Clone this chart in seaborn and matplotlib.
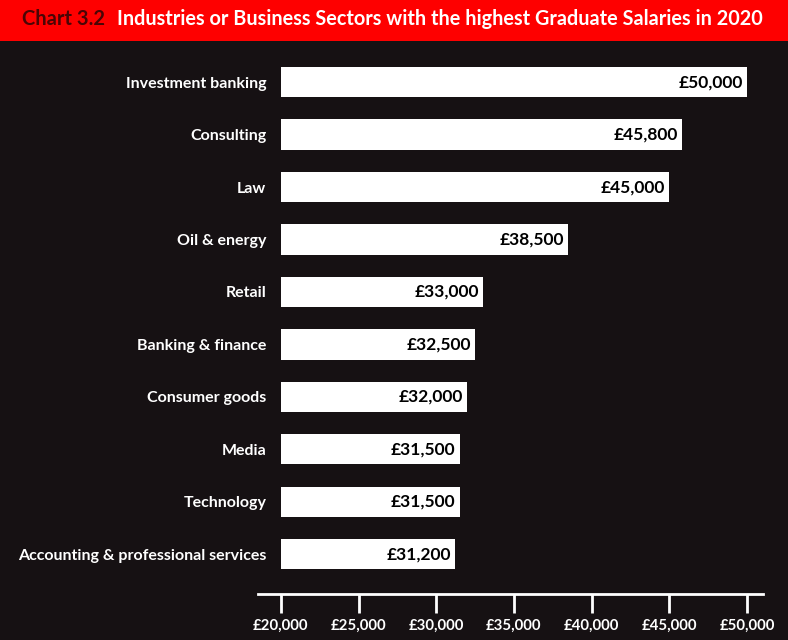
import matplotlib
matplotlib.use("Agg")
import matplotlib.pyplot as plt
import seaborn as sns
import pandas as pd
from matplotlib.patches import Rectangle
from matplotlib.ticker import FuncFormatter

categories = ["Investment banking", "Consulting", "Law", "Oil & energy", "Retail",
              "Banking & finance", "Consumer goods", "Media", "Technology",
              "Accounting & professional services"]
salaries = [50000, 45800, 45000, 38500, 33000, 32500, 32000, 31500, 31500, 31200]
tick_values = [20000, 25000, 30000, 35000, 40000, 45000, 50000]
title_prefix = "Chart 3.2"
title_text = "Industries or Business Sectors with the highest Graduate Salaries in 2020"

BG = "#161113"
RED = "#fe0000"
FONT = "Lato"

sns.set_theme(style="dark")
plt.rcParams["font.family"] = [FONT, "DejaVu Sans"]

df = pd.DataFrame({"sector": categories, "salary": salaries})

fig = plt.figure(figsize=(7.88, 6.4), dpi=100, facecolor=BG)
ax = fig.add_axes([258 / 788, 1 - 594 / 640, (763 - 258) / 788, (594 - 55) / 640])
ax.set_facecolor(BG)

sns.barplot(data=df, x="salary", y="sector", orient="h", color="white",
            width=0.58, saturation=1, ax=ax, edgecolor="none")

base = 20000
for patch, val in zip(ax.patches, salaries):
    patch.set_x(base)
    patch.set_width(val - base)
    ax.text(val - 260, patch.get_y() + patch.get_height() / 2,
            f"£{val:,}", ha="right", va="center", color="black",
            fontsize=12.5, fontweight="bold")

ax.set_xlim(18520, 51030)
ax.set_ylim(9.76, -0.52)
ax.set_xticks(tick_values)
ax.xaxis.set_major_formatter(FuncFormatter(lambda v, p: f"£{int(v):,}"))
ax.tick_params(axis="x", colors="white", length=14, width=2, direction="out",
               labelsize=10.8, pad=4, bottom=True)
for lbl in ax.get_xticklabels():
    lbl.set_fontweight("bold")
ax.tick_params(axis="y", length=0, labelsize=11.5, labelcolor="white", pad=-6)
for lbl in ax.get_yticklabels():
    lbl.set_fontweight("bold")
ax.set_xlabel("")
ax.set_ylabel("")
ax.grid(False)
for s in ["top", "right", "left"]:
    ax.spines[s].set_visible(False)
ax.spines["bottom"].set_color("white")
ax.spines["bottom"].set_linewidth(2)

fig.patches.append(Rectangle((0, 1 - 41 / 640), 1, 41 / 640, transform=fig.transFigure,
                             facecolor=RED, edgecolor="none", zorder=0))
fig.text(22 / 788, 1 - 19 / 640, title_prefix, color="#4a0505", fontsize=14.5,
         fontweight="bold", va="center", ha="left")
fig.text(763 / 788, 1 - 19 / 640, title_text, color="white", fontsize=14.3,
         fontweight="bold", va="center", ha="right")

fig.savefig("out.png", dpi=100, facecolor=BG)
